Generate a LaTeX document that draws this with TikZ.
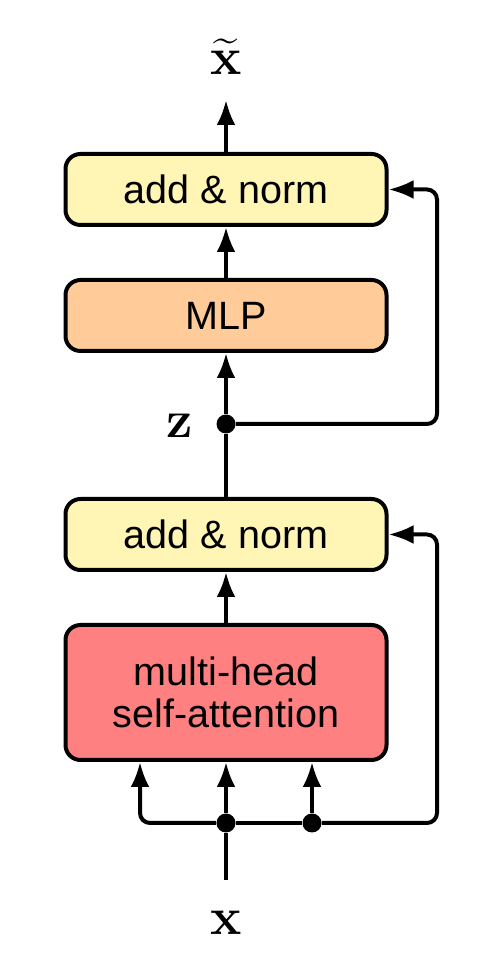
\RequirePackage{fix-cm}
\documentclass[tikz,border=0pt]{standalone}
\usepackage{amsmath}
\usepackage[no-math]{fontspec}
\setmainfont{Liberation Sans}
\usetikzlibrary{arrows.meta, positioning}
\definecolor{normyellow}{RGB}{255,246,181}
\definecolor{mlporange}{RGB}{255,204,153}
\definecolor{attnred}{RGB}{255,128,128}
\begin{document}
\begin{tikzpicture}[
    block/.style={draw, line width=0.08cm, rounded corners=0.3cm, minimum width=6.42cm, minimum height=1.42cm, align=center, font=\fontsize{22.5}{24}\selectfont},
    dot/.style={circle, fill=black, inner sep=0pt, minimum size=0.38cm},
    flow/.style={line width=0.08cm, -{Latex[length=0.5cm,width=0.38cm]}},
    wire/.style={line width=0.08cm},
    sym/.style={font=\fontsize{30}{36}\selectfont, anchor=base, inner sep=0pt},
    node distance=1.02cm
]
\useasboundingbox (0,0) rectangle (9.82,19.52);
\node [block, fill=attnred, minimum height=2.70cm] (attn) at (4.52,5.67) {multi-head\\self-attention};
\node [block, fill=normyellow, above=of attn] (norm1) {add \& norm};
\node [block, fill=mlporange, above=2.88cm of norm1] (mlp) {MLP};
\node [block, fill=normyellow, above=of mlp] (norm2) {add \& norm};

\node [dot] (zdot) at (4.52,11.04) {};
\node [dot] (xdot) at (4.52,3.06) {};
\node [dot] (kdot) at (6.24,3.06) {};
\coordinate (xin) at (4.52,1.92);
\coordinate (out) at (4.52,17.52);
\coordinate (rail) at (8.74,0);
\coordinate (qrail) at (2.8,0);

\node [sym] (xlab) at (4.52,0.82) {$\mathbf{x}$};
\node [sym] (xtlab) at (4.52,18.02) {$\widetilde{\mathbf{x}}$};
\node [sym] (zlab) at (3.6,10.76) {$\mathbf{z}$};

\draw [flow] (norm2.north) -- (out);
\draw [flow] (mlp) -- (norm2);
\draw [flow] (zdot) -- (mlp);
\draw [wire] (norm1) -- (zdot);
\draw [flow, rounded corners=0.2cm] (zdot) -| (rail |- norm2.east) -- (norm2.east);
\draw [flow] (attn) -- (norm1);

\draw [wire] (xin) -- (xdot);
\draw [wire] (xdot) -- (kdot);
\draw [flow] (xdot) -- (xdot |- attn.south);
\draw [flow] (kdot) -- (kdot |- attn.south);
\draw [flow, rounded corners=0.2cm] (xdot) -| (qrail |- attn.south);
\draw [flow, rounded corners=0.2cm] (kdot) -| (rail |- norm1.east) -- (norm1.east);
\end{tikzpicture}
\end{document}
